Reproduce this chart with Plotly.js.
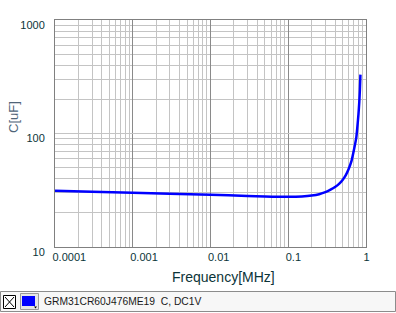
<!DOCTYPE html>
<html>
<head>
<meta charset="utf-8">
<script src="https://cdn.plot.ly/plotly-3.0.1.min.js"></script>
<style>html,body{margin:0;padding:0;background:#fff;}#chart{width:396px;height:313px;}</style>
</head>
<body>
<div id="chart"></div>
<script>
// Data
const frequencyMHz = [0.0001, 0.0003, 0.001, 0.003, 0.01, 0.03, 0.05, 0.1, 0.15, 0.2, 0.25, 0.3, 0.35, 0.4, 0.45, 0.5, 0.55, 0.6, 0.65, 0.7, 0.75, 0.775, 0.8, 0.82, 0.835, 0.848];
const capacitanceUF = [31.3, 30.6, 30.0, 29.4, 28.8, 28.2, 27.9, 27.7, 27.9, 28.4, 29.2, 30.4, 32.0, 33.8, 36.0, 39.0, 43.0, 49.0, 57.0, 72.0, 92.0, 115.0, 148.0, 190.0, 245.0, 330.0];
const xTickVals = [0.0001, 0.001, 0.01, 0.1, 1];
const xTickText = ["0.0001", "0.001", "0.01", "0.1", "1"];
const yTickVals = [10, 100, 1000];
const yTickText = ["10", "100", "1000"];
const seriesName = "GRM31CR60J476ME19";
const seriesCondition = "C, DC1V";
const xTitle = "Frequency[MHz]";
const yTitle = "C[uF]";

// pixel -> paper helpers (plot area: x 55..366, y 20..247)
const W = 396, H = 313, L = 55, R = 366, T = 20, B = 247;
const px = x => (x - L) / (R - L);
const py = y => (B - y) / (B - T);

const tickFont = {family: "Liberation Sans, Arial, sans-serif", size: 11, color: "#0b3438"};

const trace = {
  x: frequencyMHz,
  y: capacitanceUF,
  type: "scatter",
  mode: "lines",
  line: {color: "#0000ff", width: 2.5, shape: "spline", smoothing: 0.6},
  showlegend: false,
  hoverinfo: "skip"
};

const layout = {
  width: W, height: H,
  margin: {l: L, r: W - R, t: T, b: H - B, pad: 0},
  paper_bgcolor: "#ffffff",
  plot_bgcolor: "#ffffff",
  showlegend: false,
  xaxis: {
    type: "log",
    range: [-4, 0],
    tickvals: xTickVals,
    ticktext: xTickText,
    ticks: "",
    ticklabelposition: "outside right",
    ticklabelshift: -3,
    ticklabelstandoff: 0,
    tickfont: tickFont,
    showgrid: true,
    gridcolor: "#8a8a8a",
    gridwidth: 1,
    minor: {showgrid: true, gridcolor: "#c4c4c4", gridwidth: 1, dtick: "D1", ticks: ""},
    showline: true, mirror: true, linecolor: "#808080", linewidth: 1,
    zeroline: false, fixedrange: true
  },
  yaxis: {
    type: "log",
    range: [1, 3],
    tickvals: yTickVals,
    ticktext: yTickText,
    ticks: "",
    ticklabelshift: 5,
    ticklabelstandoff: 7,
    tickfont: tickFont,
    showgrid: true,
    gridcolor: "#c4c4c4",
    gridwidth: 1,
    minor: {showgrid: true, gridcolor: "#c4c4c4", gridwidth: 1, dtick: "D1", ticks: ""},
    showline: true, mirror: true, linecolor: "#808080", linewidth: 1,
    zeroline: false, fixedrange: true
  },
  annotations: [
    {xref: "paper", yref: "paper", x: px(223), y: py(277), text: xTitle, showarrow: false,
     xanchor: "center", yanchor: "middle",
     font: {family: "Liberation Sans, Arial, sans-serif", size: 14, color: "#0b3438"}},
    {xref: "paper", yref: "paper", x: px(13), y: py(117), text: yTitle, showarrow: false,
     textangle: -90, xanchor: "center", yanchor: "middle",
     font: {family: "Liberation Sans, Arial, sans-serif", size: 13, color: "#4f6478"}},
    {xref: "paper", yref: "paper", x: px(42), y: py(301.5), text: seriesName + "  " + seriesCondition, showarrow: false,
     xanchor: "left", yanchor: "middle",
     font: {family: "Liberation Sans, Arial, sans-serif", size: 10.3, color: "#1a1a1a"}}
  ],
  shapes: [
    // legend bar
    {type: "rect", xref: "paper", yref: "paper", x0: px(0.5), x1: px(395.5), y0: py(291.5), y1: py(311.5),
     fillcolor: "#f7f7f7", line: {color: "#8c8c8c", width: 1}, layer: "above"},
    // checkbox
    {type: "rect", xref: "paper", yref: "paper", x0: px(3.5), x1: px(15.5), y0: py(295.5), y1: py(308.5),
     fillcolor: "#ffffff", line: {color: "#000000", width: 1}, layer: "above"},
    {type: "line", xref: "paper", yref: "paper", x0: px(5), x1: px(14), y0: py(297), y1: py(307),
     line: {color: "#000000", width: 1}, layer: "above"},
    {type: "line", xref: "paper", yref: "paper", x0: px(14), x1: px(5), y0: py(297), y1: py(307),
     line: {color: "#000000", width: 1}, layer: "above"},
    // swatch button
    {type: "rect", xref: "paper", yref: "paper", x0: px(20.5), x1: px(38.5), y0: py(293.5), y1: py(309.5),
     fillcolor: "#e6e6e6", line: {color: "#9a9a9a", width: 1}, layer: "above"},
    {type: "rect", xref: "paper", yref: "paper", x0: px(22), x1: px(35), y0: py(296), y1: py(306),
     fillcolor: "#0000ff", line: {width: 0}, layer: "above"},
    {type: "path", xref: "paper", yref: "paper",
     path: "M " + px(34) + " " + py(306.5) + " L " + px(37) + " " + py(306.5) + " L " + px(35.5) + " " + py(308.5) + " Z",
     fillcolor: "#000000", line: {width: 0}, layer: "above"}
  ]
};

Plotly.newPlot("chart", [trace], layout, {staticPlot: true, displayModeBar: false});
</script>
</body>
</html>
